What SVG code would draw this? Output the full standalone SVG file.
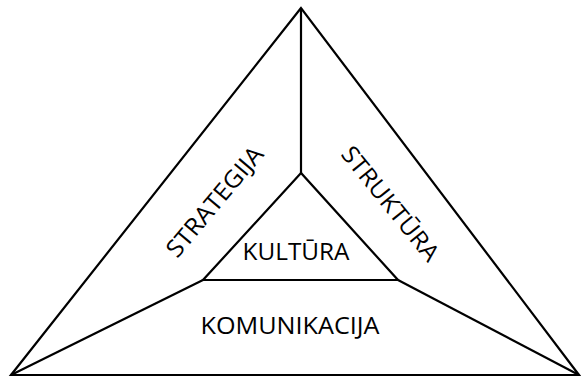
<svg xmlns="http://www.w3.org/2000/svg" width="582" height="381" viewBox="0 0 582 381">
<style>
.ln{stroke:#000;stroke-width:2.2;fill:none;stroke-linejoin:miter}
.t{font-family:"Open Sans","Liberation Sans",sans-serif;font-size:24px;fill:#000;text-anchor:middle}
</style>
<rect width="582" height="381" fill="#fff"/>
<g id="connectors">
<path class="ln" d="M301,8 L301,173"/>
<path class="ln" d="M203,280 L11,375"/>
<path class="ln" d="M398,280 L579,375"/>
</g>
<g id="outer"><path class="ln" d="M301,8 L11,375 L579,375 Z"/></g>
<g id="inner"><path class="ln" d="M301,173 L203,280 L398,280 Z"/></g>
<g id="kultura"><text class="t" x="296" y="260" textLength="107" lengthAdjust="spacingAndGlyphs">KULTŪRA</text></g>
<g id="komunikacija"><text class="t" x="290" y="334" textLength="179" lengthAdjust="spacingAndGlyphs">KOMUNIKACIJA</text></g>
<g id="strategija"><text class="t" transform="translate(221,207) rotate(-50)" textLength="136" lengthAdjust="spacingAndGlyphs">STRATEGIJA</text></g>
<g id="struktura"><text class="t" transform="translate(384,209) rotate(51)" textLength="140" lengthAdjust="spacingAndGlyphs">STRUKTŪRA</text></g>
</svg>
